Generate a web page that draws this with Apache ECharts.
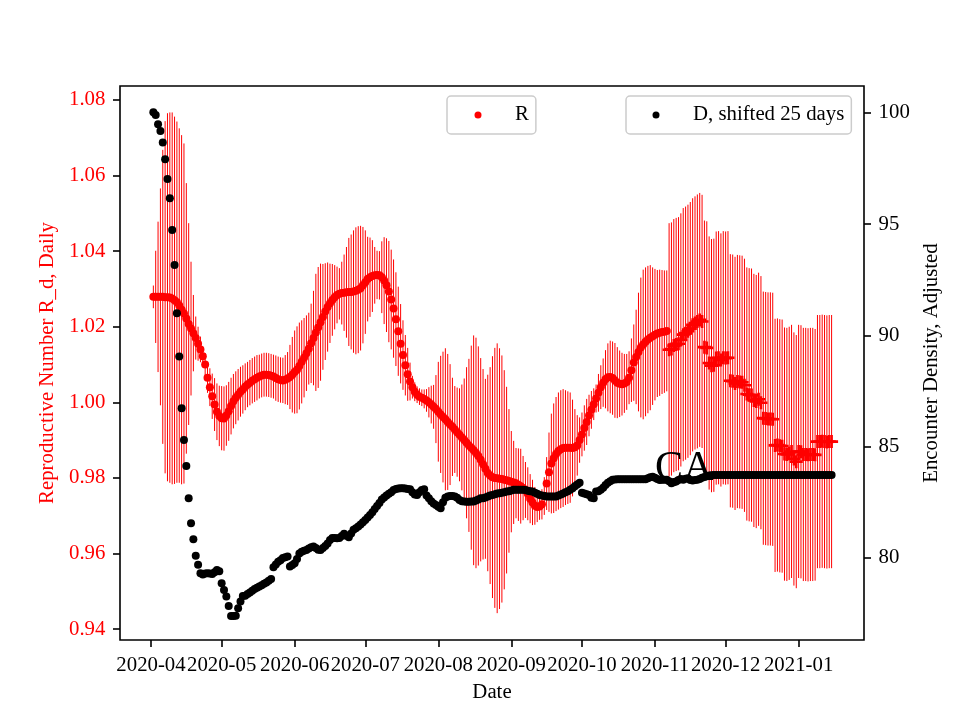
<!DOCTYPE html>
<html><head><meta charset="utf-8">
<script src="https://cdn.jsdelivr.net/npm/echarts@6/dist/echarts.min.js"></script>
<style>html,body{margin:0;padding:0;background:#fff}#c{width:960px;height:720px}</style>
</head><body><div id="c"></div>
<script>
// ---------- data ----------
const firstDate = '2020-04-02';            // first daily observation
// R (circle markers), Apr 2 .. Nov 6
const rCircle = [
1.0279,1.0279,1.0279,1.0279,1.0279,1.0278,1.0278,1.0277,1.0275,1.0270,
1.0265,1.0256,1.0245,1.0235,1.0222,1.0207,1.0195,1.0183,1.0170,1.0155,
1.0140,1.0122,1.0100,1.0065,1.0040,1.0016,0.9994,0.9975,0.9964,0.9958,
0.9957,0.9965,0.9976,0.9990,1.0003,1.0012,1.0020,1.0028,1.0034,1.0041,
1.0047,1.0052,1.0057,1.0061,1.0065,1.0068,1.0071,1.0073,1.0073,1.0072,
1.0070,1.0068,1.0064,1.0061,1.0059,1.0058,1.0060,1.0063,1.0067,1.0073,
1.0080,1.0086,1.0096,1.0107,1.0118,1.0130,1.0142,1.0156,1.0170,1.0185,
1.0198,1.0212,1.0226,1.0240,1.0252,1.0262,1.0271,1.0278,1.0284,1.0287,
1.0289,1.0290,1.0291,1.0292,1.0292,1.0293,1.0295,1.0298,1.0302,1.0310,
1.0318,1.0326,1.0331,1.0334,1.0336,1.0337,1.0336,1.0331,1.0322,1.0310,
1.0293,1.0272,1.0248,1.0220,1.0188,1.0155,1.0125,1.0098,1.0074,1.0055,
1.0040,1.0028,1.0020,1.0015,1.0012,1.0009,1.0005,1.0000,0.9994,0.9988,
0.9982,0.9975,0.9968,0.9961,0.9955,0.9948,0.9941,0.9935,0.9928,0.9921,
0.9914,0.9907,0.9900,0.9893,0.9886,0.9880,0.9873,0.9866,0.9858,0.9848,
0.9836,0.9824,0.9813,0.9806,0.9802,0.9800,0.9799,0.9798,0.9797,0.9795,
0.9794,0.9792,0.9790,0.9788,0.9786,0.9782,0.9778,0.9773,0.9768,0.9758,
0.9745,0.9735,0.9726,0.9723,0.9724,0.9730,0.9752,0.9785,0.9815,0.9838,
0.9852,0.9863,0.9871,0.9876,0.9879,0.9880,0.9880,0.9880,0.9879,0.9881,
0.9886,0.9900,0.9915,0.9932,0.9948,0.9965,0.9980,0.9995,1.0010,1.0025,
1.0040,1.0052,1.0061,1.0066,1.0067,1.0064,1.0058,1.0052,1.0049,1.0048,
1.0050,1.0054,1.0065,1.0085,1.0105,1.0120,1.0133,1.0145,1.0153,1.0160,
1.0166,1.0171,1.0175,1.0179,1.0182,1.0184,1.0186,1.0187,1.0189
];
// R (plus markers), Nov 7 .. Jan 15
const rPlus = [
1.0139,1.0141,1.0150,1.0153,1.0155,1.0165,1.0179,1.0183,1.0188,1.0195,
1.0205,1.0210,1.0214,1.0218,1.0214,1.0146,1.0144,1.0104,1.0097,1.0098,
1.0117,1.0118,1.0112,1.0118,1.0117,1.0118,1.0057,1.0056,1.0050,1.0055,
1.0054,1.0053,1.0045,1.0022,1.0020,1.0019,1.0005,1.0002,1.0008,0.9999,
0.9958,0.9957,0.9956,0.9956,0.9955,0.9886,0.9887,0.9885,0.9884,0.9863,
0.9862,0.9865,0.9870,0.9850,0.9843,0.9870,0.9869,0.9862,0.9862,0.9861,
0.9862,0.9862,0.9861,0.9896,0.9896,0.9897,0.9896,0.9895,0.9896,0.9896
];
// error-bar half width of R, Apr 2 .. Jan 15
const rErr = [
0.0030,0.0122,0.0199,0.0287,0.0389,0.0466,0.0487,0.0490,0.0492,0.0486,
0.0478,0.0469,0.0462,0.0450,0.0358,0.0267,0.0177,0.0101,0.0057,0.0045,
0.0034,0.0025,0.0030,0.0040,0.0050,0.0060,0.0070,0.0075,0.0080,0.0085,
0.0085,0.0080,0.0078,0.0075,0.0072,0.0070,0.0068,0.0066,0.0064,0.0062,
0.0060,0.0060,0.0060,0.0060,0.0060,0.0058,0.0058,0.0058,0.0058,0.0058,
0.0058,0.0058,0.0060,0.0060,0.0060,0.0060,0.0065,0.0070,0.0085,0.0100,
0.0110,0.0115,0.0115,0.0110,0.0105,0.0100,0.0095,0.0105,0.0125,0.0155,
0.0160,0.0155,0.0140,0.0128,0.0118,0.0105,0.0095,0.0085,0.0075,0.0068,
0.0083,0.0101,0.0120,0.0143,0.0152,0.0162,0.0168,0.0168,0.0165,0.0154,
0.0137,0.0112,0.0105,0.0095,0.0075,0.0064,0.0064,0.0095,0.0115,0.0124,
0.0134,0.0132,0.0130,0.0124,0.0118,0.0105,0.0092,0.0080,0.0070,0.0050,
0.0030,0.0025,0.0022,0.0022,0.0022,0.0025,0.0030,0.0040,0.0050,0.0058,
0.0090,0.0132,0.0155,0.0173,0.0188,0.0180,0.0160,0.0130,0.0115,0.0118,
0.0123,0.0140,0.0163,0.0200,0.0229,0.0270,0.0304,0.0305,0.0290,0.0269,
0.0252,0.0238,0.0260,0.0287,0.0320,0.0344,0.0357,0.0345,0.0327,0.0290,
0.0247,0.0190,0.0134,0.0110,0.0093,0.0096,0.0099,0.0085,0.0074,0.0070,
0.0065,0.0060,0.0050,0.0040,0.0035,0.0040,0.0050,0.0070,0.0105,0.0132,
0.0145,0.0151,0.0155,0.0156,0.0156,0.0152,0.0149,0.0146,0.0128,0.0101,
0.0080,0.0060,0.0058,0.0060,0.0061,0.0055,0.0050,0.0042,0.0037,0.0050,
0.0058,0.0064,0.0077,0.0090,0.0096,0.0097,0.0099,0.0094,0.0088,0.0083,
0.0078,0.0074,0.0070,0.0084,0.0101,0.0125,0.0157,0.0185,0.0198,0.0197,
0.0195,0.0192,0.0182,0.0174,0.0168,0.0167,0.0164,0.0162,0.0160,
0.0335,0.0335,0.0335,0.0335,0.0335,0.0335,0.0335,0.0335,0.0335,0.0335,
0.0335,0.0335,0.0336,0.0336,0.0335,0.0335,0.0335,0.0335,0.0335,0.0335,
0.0335,0.0335,0.0335,0.0335,0.0335,0.0335,0.0335,0.0335,0.0335,0.0335,
0.0335,0.0335,0.0335,0.0335,0.0335,0.0335,0.0335,0.0335,0.0335,0.0335,
0.0335,0.0335,0.0335,0.0335,0.0335,0.0335,0.0335,0.0335,0.0335,0.0335,
0.0335,0.0335,0.0335,0.0335,0.0335,0.0335,0.0335,0.0335,0.0335,0.0335,
0.0335,0.0335,0.0333,0.0335,0.0335,0.0335,0.0335,0.0335,0.0335,0.0335
];
// D, shifted 25 days, Apr 2 .. Jan 15
const dShifted = [
100.03,99.91,99.49,99.19,98.67,97.92,97.03,96.17,94.74,93.16,
91.00,89.05,86.73,85.30,84.13,82.68,81.56,80.84,80.10,79.69,
79.31,79.25,79.30,79.31,79.30,79.28,79.35,79.46,79.40,78.86,
78.56,78.26,77.84,77.39,77.39,77.40,77.74,78.04,78.29,78.30,
78.38,78.45,78.52,78.60,78.66,78.72,78.77,78.84,78.90,78.97,
79.05,79.58,79.70,79.83,79.90,79.99,80.03,80.06,79.61,79.68,
79.76,79.95,80.20,80.28,80.32,80.36,80.42,80.48,80.51,80.45,
80.37,80.36,80.45,80.54,80.65,80.80,80.89,80.89,80.88,80.89,
80.98,81.08,81.00,80.93,81.10,81.26,81.33,81.41,81.50,81.60,
81.70,81.82,81.93,82.05,82.20,82.33,82.47,82.62,82.72,82.80,
82.88,82.95,83.05,83.10,83.12,83.13,83.13,83.12,83.10,83.09,
82.95,82.85,82.83,82.95,83.05,83.09,82.80,82.68,82.55,82.45,
82.38,82.30,82.23,82.50,82.70,82.76,82.78,82.78,82.76,82.70,
82.60,82.55,82.53,82.52,82.52,82.53,82.53,82.58,82.63,82.68,
82.68,82.72,82.76,82.80,82.83,82.86,82.89,82.91,82.93,82.95,
82.98,83.00,83.03,83.06,83.06,83.06,83.06,83.06,83.05,83.02,
83.00,82.98,82.93,82.88,82.83,82.80,82.78,82.76,82.76,82.76,
82.76,82.76,82.80,82.85,82.90,82.95,83.00,83.06,83.13,83.22,
83.30,83.38,82.93,82.90,82.86,82.83,82.70,82.68,82.98,83.00,
83.06,83.15,83.28,83.38,83.45,83.51,83.52,83.54,83.54,83.54,
83.54,83.54,83.54,83.54,83.54,83.54,83.54,83.54,83.54,83.54,
83.58,83.62,83.65,83.60,83.55,83.50,83.51,83.51,83.51,83.45,
83.36,83.40,83.43,83.50,83.55,83.51,83.56,83.58,83.50,83.48,
83.50,83.51,83.55,83.60,83.64,83.67,83.70,83.72,83.73,83.73,
83.73,83.73,83.73,83.73,83.73,83.73,83.73,83.73,83.73,83.73,
83.73,83.73,83.73,83.73,83.73,83.73,83.73,83.73,83.73,83.73,
83.73,83.73,83.73,83.73,83.73,83.73,83.73,83.73,83.73,83.73,
83.73,83.73,83.73,83.73,83.73,83.73,83.73,83.73,83.73,83.73,
83.73,83.73,83.73,83.73,83.73,83.73,83.73,83.73,83.73
];
const monthTicks = ['2020-04-01','2020-05-01','2020-06-01','2020-07-01','2020-08-01',
                    '2020-09-01','2020-10-01','2020-11-01','2020-12-01','2021-01-01'];
const monthLabels = ['2020-04','2020-05','2020-06','2020-07','2020-08',
                     '2020-09','2020-10','2020-11','2020-12','2021-01'];
const leftTicks = [0.94,0.96,0.98,1.00,1.02,1.04,1.06,1.08];
const rightTicks = [80,85,90,95,100];
const annotation = 'CA';

// ---------- build ----------
const DAY = 86400000;
const toMs = s => Date.UTC(+s.slice(0,4), +s.slice(5,7)-1, +s.slice(8,10));
const t0 = toMs(firstDate);
const dates = dShifted.map((_, i) => t0 + i * DAY);
const rAll = rCircle.concat(rPlus);
const tickMs = monthTicks.map(toMs);
const FONT = 'Liberation Serif';
const FS = 20.8;

const xMin = toMs('2020-04-01') - 13.16 * DAY;
const xMax = toMs('2020-04-01') + 302.76 * DAY;

const plusPath = 'path://M4,0H6V4H10V6H6V10H4V6H0V4H4Z';

const legendBase = {
  icon: 'circle', itemWidth: 7, itemHeight: 7, top: 96,
  borderColor: '#cccccc', borderWidth: 1.5, borderRadius: 4,
  backgroundColor: 'rgba(255,255,255,0.8)', selectedMode: false,
  formatter: n => '{t|' + n + '}',
  textStyle: {fontFamily: FONT, fontSize: FS, color: '#000',
              rich: {t: {fontFamily: FONT, fontSize: FS, color: '#000', lineHeight: 20, padding: [0, 0, 0, 28.5]}}}
};

const chart = echarts.init(document.getElementById('c'), null, {renderer: 'canvas'});
const option = {
  animation: false,
  backgroundColor: '#ffffff',
  textStyle: {fontFamily: FONT},
  grid: {left: 120, right: 96, top: 86, bottom: 80, show: true,
         borderColor: '#000', borderWidth: 1.6, backgroundColor: 'transparent'},
  legend: [
    Object.assign({}, legendBase, {data: ['R'], left: 447, padding: [8.5, 7, 8.5, 27.5]}),
    Object.assign({}, legendBase, {data: ['D, shifted 25 days'], left: 626, padding: [8.5, 7, 8.5, 26.5]})
  ],
  xAxis: {
    type: 'value', min: xMin, max: xMax,
    name: 'Date', nameLocation: 'middle', nameGap: 42,
    nameTextStyle: {fontFamily: FONT, fontSize: FS, color: '#000'},
    axisLine: {show: false},
    axisTick: {show: true, length: 7, lineStyle: {color: '#000', width: 1.6}, customValues: tickMs},
    axisLabel: {show: true, margin: 14.6, fontFamily: FONT, fontSize: FS, color: '#000',
                customValues: tickMs, hideOverlap: false,
                formatter: v => { const i = tickMs.indexOf(v); return i >= 0 ? monthLabels[i] : ''; }},
    splitLine: {show: false}
  },
  yAxis: [
    {type: 'value', position: 'left', min: 0.9371, max: 1.0837,
     name: 'Reproductive Number R_d, Daily', nameLocation: 'middle', nameRotate: 90, nameGap: 59,
     nameTextStyle: {fontFamily: FONT, fontSize: FS, color: '#ff0000'},
     axisLine: {show: false},
     axisTick: {show: true, length: 7, lineStyle: {color: '#000', width: 1.6}, customValues: leftTicks},
     axisLabel: {margin: 14.6, fontFamily: FONT, fontSize: FS, color: '#ff0000',
                 customValues: leftTicks, formatter: v => v.toFixed(2)},
     splitLine: {show: false}},
    {type: 'value', position: 'right', min: 76.31, max: 101.21,
     name: 'Encounter Density, Adjusted', nameLocation: 'middle', nameRotate: 90, nameGap: 44,
     nameTextStyle: {fontFamily: FONT, fontSize: FS, color: '#000'},
     axisLine: {show: false},
     axisTick: {show: true, length: 7, lineStyle: {color: '#000', width: 1.6}, customValues: rightTicks},
     axisLabel: {margin: 14.6, fontFamily: FONT, fontSize: FS, color: '#000',
                 customValues: rightTicks, formatter: v => String(v)},
     splitLine: {show: false}}
  ],
  series: [
    {name: 'R error', type: 'custom', xAxisIndex: 0, yAxisIndex: 0, silent: true, z: 1,
     data: dates.map((t, i) => [t, rAll[i] - rErr[i], rAll[i] + rErr[i]]),
     encode: {x: 0, y: [1, 2]},
     renderItem: (params, api) => {
       const a = api.coord([api.value(0), api.value(1)]);
       const b = api.coord([api.value(0), api.value(2)]);
       return {type: 'line', shape: {x1: a[0], y1: a[1], x2: b[0], y2: b[1]},
               style: {stroke: '#ff0000', lineWidth: 1}};
     }},
    {name: 'R', type: 'scatter', xAxisIndex: 0, yAxisIndex: 0, z: 2, silent: true,
     symbol: 'circle', symbolSize: 8, itemStyle: {color: '#ff0000', opacity: 1},
     data: rCircle.map((v, i) => [dates[i], v])},
    {name: 'R (later)', type: 'scatter', xAxisIndex: 0, yAxisIndex: 0, z: 2, silent: true,
     symbol: plusPath, symbolSize: 13, itemStyle: {color: '#ff0000', opacity: 1},
     data: rPlus.map((v, i) => [dates[rCircle.length + i], v])},
    {name: 'D, shifted 25 days', type: 'scatter', xAxisIndex: 0, yAxisIndex: 1, z: 3, silent: true,
     symbol: 'circle', symbolSize: 8, itemStyle: {color: '#000000', opacity: 1},
     data: dShifted.map((v, i) => [dates[i], v])}
  ],
  graphic: [
    {type: 'text', left: 655, top: 448, z: 100, silent: true,
     style: {text: annotation, font: '42px "Liberation Serif"', fill: '#000'}}
  ]
};
chart.setOption(option);
</script>
</body></html>
